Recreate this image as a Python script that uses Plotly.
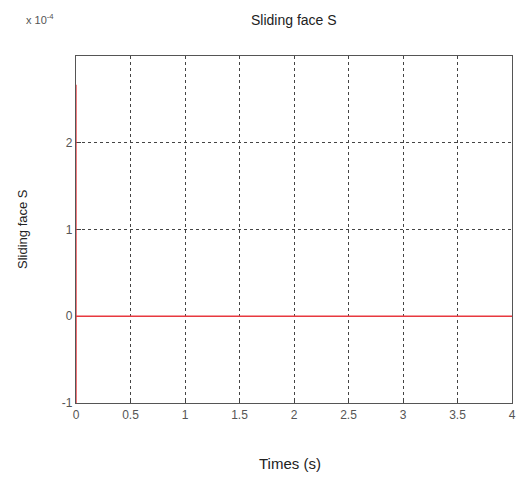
import plotly.graph_objects as go

# data (y in units of 1e-4)
times = [0.0, 0.0004, 0.0008, 4.0]
s_vals = [2.67, -1.0, 0.0, 0.0]
x_ticks = [0, 0.5, 1, 1.5, 2, 2.5, 3, 3.5, 4]
x_tick_labels = ["0", "0.5", "1", "1.5", "2", "2.5", "3", "3.5", "4"]
y_ticks = [-1, 0, 1, 2]
y_tick_labels = ["-1", "0", "1", "2"]

fig = go.Figure()
fig.add_trace(go.Scatter(x=times, y=s_vals, mode="lines",
                         line=dict(color="#e8393f", width=1.3),
                         showlegend=False, hoverinfo="skip", cliponaxis=False))

axis_common = dict(
    showline=True, linecolor="#555555", linewidth=1.2, mirror=True,
    showgrid=True, gridcolor="#444444", griddash="dot", gridwidth=1,
    ticks="inside", ticklen=5, tickcolor="#444444",
    zeroline=False, layer="below traces",
    tickfont=dict(family="Liberation Sans, Arial", size=12, color="#555555"),
)

fig.update_xaxes(range=[0, 4], tickvals=x_ticks, ticktext=x_tick_labels, **axis_common)
fig.update_yaxes(range=[-1, 3], tickvals=y_ticks, ticktext=y_tick_labels, **axis_common)

fig.update_layout(
    width=521, height=479,
    margin=dict(l=76, r=5, t=56, b=76),
    paper_bgcolor="white", plot_bgcolor="white",
    font=dict(family="Liberation Sans, Arial", color="#222222"),
    annotations=[
        dict(text="Sliding face S", x=0.5, y=1, xref="paper", yref="paper",
             yanchor="bottom", yshift=26, showarrow=False,
             font=dict(size=14, color="#222222")),
        dict(text="Times (s)", x=0.49, y=0, xref="paper", yref="paper",
             yanchor="top", yshift=-50, showarrow=False,
             font=dict(size=15, color="#222222")),
        dict(text="Sliding face S", x=0, y=0.5, xref="paper", yref="paper",
             xanchor="right", xshift=-44, textangle=-90, showarrow=False,
             font=dict(size=13, color="#222222")),
        dict(text="x 10<sup>-4</sup>", x=0, y=1, xref="paper", yref="paper",
             xanchor="right", yanchor="bottom", xshift=-20, yshift=28,
             showarrow=False, font=dict(size=11, color="#555555")),
    ],
)

fig.write_html("out.html")
